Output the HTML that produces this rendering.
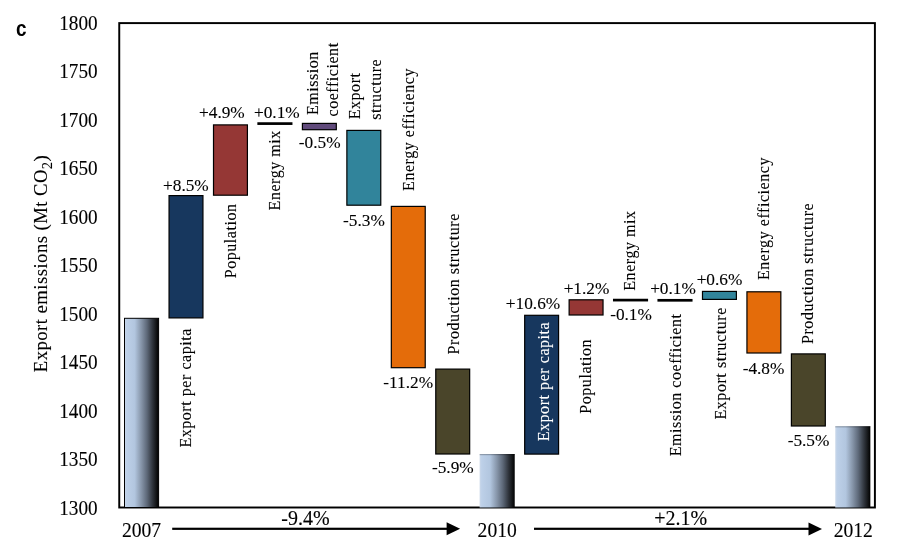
<!DOCTYPE html>
<html><head><meta charset="utf-8"><style>
html,body{margin:0;padding:0;background:#fff;}
svg{display:block;will-change:transform;filter:blur(0.3px);}
text{font-family:"Liberation Serif",serif;fill:#000;stroke:#000;stroke-width:0.12px;}
.tk{font-size:19.2px;}
.lb{font-size:17.3px;}
.lbr{font-size:16px;letter-spacing:0.55px;}
.yt{font-size:18.7px;letter-spacing:0.46px;}
.yr{font-size:19.6px;}
.bt{font-size:20px;}
.c{font-family:"Liberation Sans",sans-serif;font-weight:bold;font-size:21px;stroke-width:0;}
</style></head><body>
<svg width="900" height="538" viewBox="0 0 900 538">
<defs><linearGradient id="g" x1="0" x2="1" y1="0" y2="0">
<stop offset="0" stop-color="#CCD9EA"/><stop offset="0.06" stop-color="#BDD0E8"/><stop offset="0.3" stop-color="#B2C6DF"/>
<stop offset="0.49" stop-color="#8796AA"/><stop offset="0.66" stop-color="#5D6878"/><stop offset="0.82" stop-color="#30353D"/><stop offset="0.92" stop-color="#16181B"/><stop offset="1" stop-color="#000"/>
</linearGradient></defs>
<rect x="119.25" y="23.1" width="755.65" height="484.4" fill="none" stroke="#000" stroke-width="1.95"/>
<rect x="124.50" y="318.30" width="34.1" height="189.20" fill="url(#g)" stroke="#000" stroke-width="1"/>
<rect x="479.62" y="454.00" width="35.1" height="53.50" fill="url(#g)"/>
<rect x="479.62" y="454.00" width="35.1" height="1.2" fill="#000" opacity="0.25"/>
<rect x="835.25" y="426.20" width="35.1" height="81.30" fill="url(#g)"/>
<rect x="835.25" y="426.20" width="35.1" height="1.2" fill="#000" opacity="0.25"/>
<rect x="169.05" y="195.60" width="33.90" height="122.30" fill="#17375E" stroke="#000" stroke-width="1.2"/>
<rect x="213.51" y="124.90" width="33.90" height="70.30" fill="#953735" stroke="#000" stroke-width="1.2"/>
<rect x="302.41" y="123.40" width="33.90" height="6.30" fill="#604A7B" stroke="#000" stroke-width="1.2"/>
<rect x="346.87" y="130.40" width="33.90" height="74.80" fill="#31849B" stroke="#000" stroke-width="1.2"/>
<rect x="391.32" y="206.40" width="33.90" height="161.30" fill="#E46C0A" stroke="#000" stroke-width="1.2"/>
<rect x="435.77" y="369.10" width="33.90" height="84.90" fill="#4A452A" stroke="#000" stroke-width="1.2"/>
<rect x="524.68" y="315.30" width="33.90" height="138.80" fill="#17375E" stroke="#000" stroke-width="1.2"/>
<rect x="569.13" y="299.80" width="33.90" height="15.20" fill="#953735" stroke="#000" stroke-width="1.2"/>
<rect x="702.49" y="291.40" width="33.90" height="8.00" fill="#31849B" stroke="#000" stroke-width="1.2"/>
<rect x="746.94" y="291.80" width="33.90" height="61.20" fill="#E46C0A" stroke="#000" stroke-width="1.2"/>
<rect x="791.40" y="353.90" width="33.90" height="72.10" fill="#4A452A" stroke="#000" stroke-width="1.2"/>
<rect x="257.36" y="122.25" width="35.1" height="2.7" fill="#000"/>
<rect x="612.98" y="298.75" width="35.1" height="2.7" fill="#000"/>
<rect x="657.44" y="298.95" width="35.1" height="2.7" fill="#000"/>
<text transform="translate(97.60,29.80) scale(1.0,1.06)" class="tk" text-anchor="end">1800</text>
<text transform="translate(97.60,78.30) scale(1.0,1.06)" class="tk" text-anchor="end">1750</text>
<text transform="translate(97.60,126.80) scale(1.0,1.06)" class="tk" text-anchor="end">1700</text>
<text transform="translate(97.60,175.30) scale(1.0,1.06)" class="tk" text-anchor="end">1650</text>
<text transform="translate(97.60,223.80) scale(1.0,1.06)" class="tk" text-anchor="end">1600</text>
<text transform="translate(97.60,272.30) scale(1.0,1.06)" class="tk" text-anchor="end">1550</text>
<text transform="translate(97.60,320.80) scale(1.0,1.06)" class="tk" text-anchor="end">1500</text>
<text transform="translate(97.60,369.30) scale(1.0,1.06)" class="tk" text-anchor="end">1450</text>
<text transform="translate(97.60,417.80) scale(1.0,1.06)" class="tk" text-anchor="end">1400</text>
<text transform="translate(97.60,466.30) scale(1.0,1.06)" class="tk" text-anchor="end">1350</text>
<text transform="translate(97.60,514.80) scale(1.0,1.06)" class="tk" text-anchor="end">1300</text>
<text transform="translate(185.90,190.80) scale(1.0,1.0)" class="lb" text-anchor="middle">+8.5%</text>
<text transform="translate(221.90,117.90) scale(1.0,1.0)" class="lb" text-anchor="middle">+4.9%</text>
<text transform="translate(276.80,117.90) scale(1.0,1.0)" class="lb" text-anchor="middle">+0.1%</text>
<text transform="translate(319.70,147.80) scale(1.0,1.0)" class="lb" text-anchor="middle">-0.5%</text>
<text transform="translate(363.90,226.00) scale(1.0,1.0)" class="lb" text-anchor="middle">-5.3%</text>
<text transform="translate(408.20,388.20) scale(1.0,1.0)" class="lb" text-anchor="middle">-11.2%</text>
<text transform="translate(452.80,473.00) scale(1.0,1.0)" class="lb" text-anchor="middle">-5.9%</text>
<text transform="translate(533.00,308.90) scale(1.0,1.0)" class="lb" text-anchor="middle">+10.6%</text>
<text transform="translate(586.50,294.00) scale(1.0,1.0)" class="lb" text-anchor="middle">+1.2%</text>
<text transform="translate(631.00,319.80) scale(1.0,1.0)" class="lb" text-anchor="middle">-0.1%</text>
<text transform="translate(673.00,294.20) scale(1.0,1.0)" class="lb" text-anchor="middle">+0.1%</text>
<text transform="translate(719.50,284.50) scale(1.0,1.0)" class="lb" text-anchor="middle">+0.6%</text>
<text transform="translate(763.50,373.70) scale(1.0,1.0)" class="lb" text-anchor="middle">-4.8%</text>
<text transform="translate(808.50,446.00) scale(1.0,1.0)" class="lb" text-anchor="middle">-5.5%</text>
<text transform="translate(190.90,447.60) rotate(-90) scale(1.0,1.0)" class="lbr" text-anchor="start" style="fill:#000;stroke:#000">Export per capita</text>
<text transform="translate(235.70,278.30) rotate(-90) scale(1.0,1.0)" class="lbr" text-anchor="start" style="fill:#000;stroke:#000">Population</text>
<text transform="translate(280.10,210.40) rotate(-90) scale(1.0,1.0)" class="lbr" text-anchor="start" style="fill:#000;stroke:#000">Energy mix</text>
<text transform="translate(317.60,115.10) rotate(-90) scale(1.0,1.0)" class="lbr" text-anchor="start" style="fill:#000;stroke:#000">Emission</text>
<text transform="translate(338.00,116.50) rotate(-90) scale(1.0,1.0)" class="lbr" text-anchor="start" style="fill:#000;stroke:#000">coefficient</text>
<text transform="translate(360.30,119.30) rotate(-90) scale(1.0,1.0)" class="lbr" text-anchor="start" style="fill:#000;stroke:#000">Export</text>
<text transform="translate(381.10,119.70) rotate(-90) scale(1.0,1.0)" class="lbr" text-anchor="start" style="fill:#000;stroke:#000">structure</text>
<text transform="translate(414.00,190.90) rotate(-90) scale(1.0,1.0)" class="lbr" text-anchor="start" style="fill:#000;stroke:#000">Energy efficiency</text>
<text transform="translate(458.80,354.40) rotate(-90) scale(1.0,1.0)" class="lbr" text-anchor="start" style="fill:#000;stroke:#000">Production structure</text>
<text transform="translate(548.80,441.30) rotate(-90) scale(1.0,1.0)" class="lbr" text-anchor="start" style="fill:#fff;stroke:#fff">Export per capita</text>
<text transform="translate(590.80,413.70) rotate(-90) scale(1.0,1.0)" class="lbr" text-anchor="start" style="fill:#000;stroke:#000">Population</text>
<text transform="translate(635.40,290.70) rotate(-90) scale(1.0,1.0)" class="lbr" text-anchor="start" style="fill:#000;stroke:#000">Energy mix</text>
<text transform="translate(680.50,456.20) rotate(-90) scale(1.0,1.0)" class="lbr" text-anchor="start" style="fill:#000;stroke:#000">Emission coefficient</text>
<text transform="translate(725.50,419.50) rotate(-90) scale(1.0,1.0)" class="lbr" text-anchor="start" style="fill:#000;stroke:#000">Export structure</text>
<text transform="translate(769.30,280.00) rotate(-90) scale(1.0,1.0)" class="lbr" text-anchor="start" style="fill:#000;stroke:#000">Energy efficiency</text>
<text transform="translate(813.30,344.00) rotate(-90) scale(1.0,1.0)" class="lbr" text-anchor="start" style="fill:#000;stroke:#000">Production structure</text>
<text transform="translate(46.90,372.20) rotate(-90) scale(1.0,1.0)" class="yt" text-anchor="start">Export emissions (Mt CO<tspan font-size="14" dy="5">2</tspan><tspan dy="-5">)</tspan></text>
<text transform="translate(141.50,536.80) scale(1.0,1.05)" class="yr" text-anchor="middle">2007</text>
<text transform="translate(497.20,536.80) scale(1.0,1.05)" class="yr" text-anchor="middle">2010</text>
<text transform="translate(853.30,536.80) scale(1.0,1.05)" class="yr" text-anchor="middle">2012</text>
<rect x="172.2" y="527.7" width="276" height="2.2" fill="#000"/>
<path d="M446.6 522.3 L460.1 528.8 L446.6 535.3 Z" fill="#000"/>
<rect x="534" y="527.7" width="276" height="2.2" fill="#000"/>
<path d="M808.5 522.5 L822 529 L808.5 535.5 Z" fill="#000"/>
<text transform="translate(305.50,524.90) scale(1.0,1.06)" class="bt" text-anchor="middle">-9.4%</text>
<text transform="translate(680.60,525.20) scale(1.0,1.06)" class="bt" text-anchor="middle">+2.1%</text>
<text transform="translate(16.1,35.9) scale(0.9,1.03)" class="c">c</text>
</svg>
</body></html>
